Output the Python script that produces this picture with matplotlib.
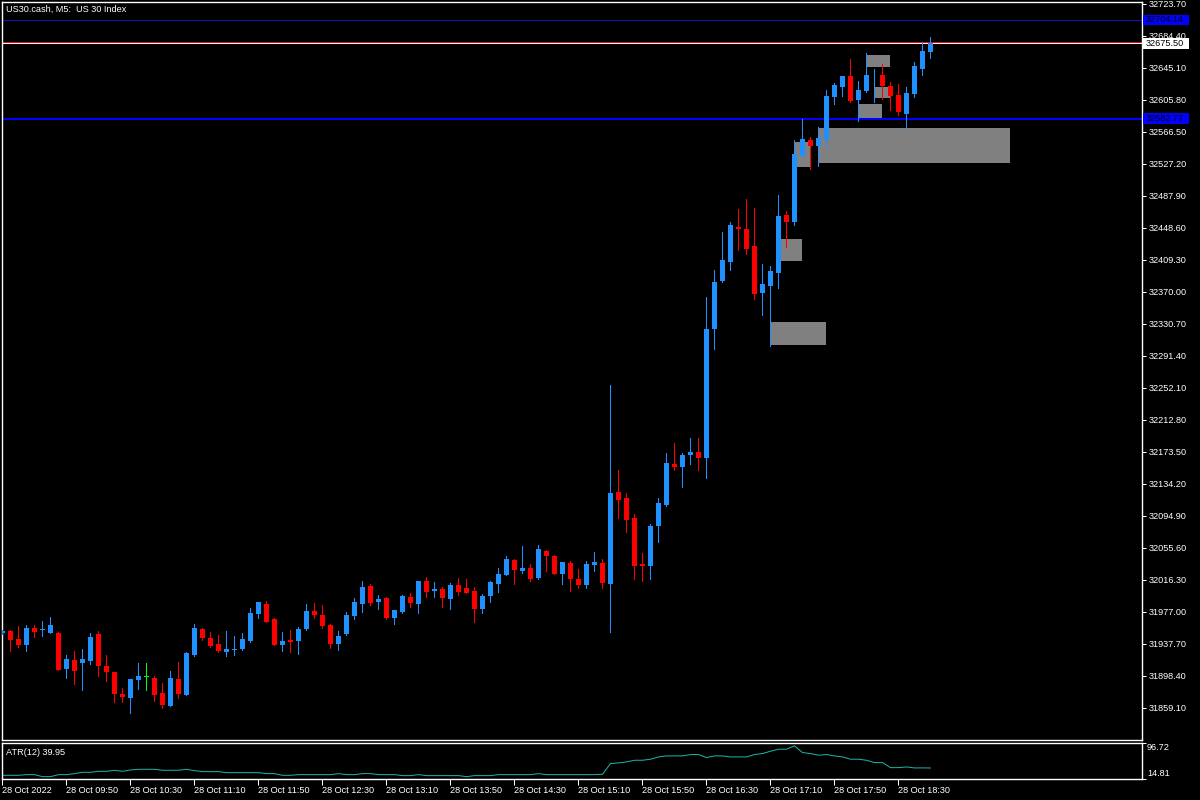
import matplotlib
matplotlib.use("Agg")
import matplotlib.pyplot as plt
from matplotlib.patches import Rectangle
from matplotlib.transforms import blended_transform_factory

plt.rcParams['font.family'] = ['Liberation Sans', 'DejaVu Sans']

# US30.cash M5 candles, 28 Oct 2022 09:10 .. 18:50
opens = [
    31951.8, 31953.7, 31943.5, 31936.8, 31957.2, 31954.5, 31951.6, 31951.2, 31907.4, 31918.1,
    31914.8, 31917.2, 31950.0, 31910.7, 31903.3, 31876.3, 31871.8, 31893.9, 31897.2, 31896.0,
    31877.5, 31861.9, 31894.7, 31875.5, 31924.6, 31956.0, 31945.0, 31937.5, 31928.3, 31930.7,
    31931.6, 31941.5, 31974.5, 31986.8, 31968.4, 31936.5, 31942.6, 31941.3, 31956.2, 31978.2,
    31973.3, 31961.0, 31938.1, 31949.9, 31972.1, 31987.2, 32009.0, 31989.3, 31994.2, 31969.6,
    31977.0, 31995.5, 31986.8, 32015.1, 32002.8, 32005.3, 31993.0, 32010.2, 32006.5, 32002.8,
    31980.7, 31996.7, 32011.4, 32022.4, 32040.9, 32027.3, 32031.0, 32018.8, 32051.9, 32045.8,
    32023.6, 32037.2, 32017.6, 32010.2, 32034.8, 32037.2, 32011.4, 32124.4, 32117.0, 32092.5,
    32036.0, 32033.6, 32082.7, 32108.4, 32158.8, 32155.1, 32169.8, 32173.5, 32166.1, 32324.6,
    32383.5, 32406.8, 32449.8, 32447.4, 32426.5, 32368.8, 32377.4, 32393.3, 32464.6, 32456.0,
    32537.0, 32556.7, 32549.3, 32556.7, 32609.5, 32621.8, 32635.3, 32605.8, 32616.9, 32635.9,
    32636.5, 32623.0, 32611.9, 32588.6, 32613.2, 32643.9, 32664.7]
highs = [
    31955.5, 31954.5, 31959.8, 31961.0, 31961.0, 31965.9, 31970.8, 31952.4, 31924.2, 31929.1,
    31931.6, 31951.2, 31953.7, 31924.2, 31903.5, 31883.6, 31895.0, 31914.3, 31914.3, 31898.4,
    31889.8, 31904.5, 31915.6, 31927.9, 31962.2, 31957.2, 31952.4, 31948.5, 31953.7, 31947.3,
    31951.2, 31981.9, 31989.5, 31990.5, 31969.6, 31952.4, 31954.9, 31958.6, 31986.8, 31988.1,
    31985.6, 31962.3, 31953.7, 31976.9, 31994.1, 32015.1, 32011.4, 31997.9, 31995.5, 31980.0,
    31997.9, 32000.4, 32015.4, 32020.0, 32013.9, 32007.7, 32012.6, 32018.8, 32017.6, 32007.7,
    31999.2, 32015.1, 32031.0, 32045.8, 32042.3, 32058.1, 32036.0, 32059.3, 32053.1, 32047.0,
    32038.7, 32039.7, 32029.8, 32039.7, 32050.7, 32042.1, 32255.8, 32151.4, 32123.1, 32097.4,
    32049.5, 32085.1, 32117.0, 32172.3, 32184.6, 32172.3, 32190.7, 32190.7, 32363.9, 32397.0,
    32443.7, 32455.9, 32471.9, 32484.2, 32473.2, 32404.4, 32401.9, 32489.1, 32469.5, 32556.7,
    32582.5, 32560.4, 32572.6, 32618.1, 32626.7, 32635.5, 32656.1, 32629.2, 32663.5, 32643.9,
    32650.0, 32627.9, 32625.5, 32621.8, 32652.5, 32677.0, 32683.2]
lows = [
    31950.5, 31929.5, 31934.0, 31929.5, 31946.6, 31947.9, 31951.2, 31905.5, 31896.3, 31888.9,
    31881.6, 31913.5, 31898.8, 31892.6, 31866.8, 31866.8, 31853.3, 31882.9, 31881.6, 31868.1,
    31859.5, 31861.5, 31871.8, 31875.3, 31923.4, 31942.9, 31934.4, 31927.9, 31923.0, 31924.2,
    31930.3, 31940.2, 31970.0, 31964.5, 31936.3, 31929.1, 31927.9, 31925.4, 31954.9, 31969.6,
    31957.4, 31933.2, 31930.3, 31948.7, 31968.4, 31977.0, 31985.6, 31980.7, 31968.4, 31962.3,
    31975.8, 31983.2, 31975.8, 31995.5, 31995.5, 31983.2, 31980.7, 31997.9, 32000.2, 31964.7,
    31975.8, 31989.3, 32001.6, 32022.2, 32011.4, 32024.9, 32015.1, 32017.6, 32027.3, 32023.4,
    32011.4, 32002.8, 32006.5, 32006.5, 32027.3, 32006.5, 31952.4, 32092.5, 32075.3, 32017.6,
    32015.1, 32017.6, 32063.0, 32107.2, 32151.4, 32130.5, 32158.8, 32151.4, 32141.6, 32300.0,
    32382.3, 32397.0, 32421.6, 32416.7, 32361.4, 32341.7, 32303.7, 32374.9, 32425.3, 32452.3,
    32536.8, 32521.1, 32524.7, 32548.1, 32600.9, 32610.7, 32603.3, 32580.0, 32615.6, 32603.3,
    32607.0, 32593.5, 32587.4, 32570.2, 32609.5, 32636.5, 32657.3]
closes = [
    31953.7, 31943.0, 31936.5, 31957.2, 31952.8, 31954.9, 31961.0, 31906.1, 31919.3, 31904.9,
    31919.3, 31946.3, 31911.1, 31903.7, 31876.7, 31873.0, 31894.7, 31898.4, 31897.2, 31875.1,
    31863.1, 31896.0, 31876.7, 31926.7, 31957.2, 31945.3, 31935.6, 31929.1, 31931.6, 31931.3,
    31943.9, 31975.7, 31989.3, 31964.7, 31936.5, 31941.3, 31940.2, 31956.2, 31978.2, 31973.3,
    31959.8, 31938.1, 31947.6, 31973.2, 31989.3, 32007.7, 31988.1, 31993.0, 31969.6, 31979.5,
    31996.7, 31988.1, 32015.1, 32001.6, 32005.3, 31994.2, 32010.2, 32001.6, 32000.4, 31980.7,
    31996.7, 32013.9, 32023.6, 32042.1, 32028.6, 32031.0, 32017.6, 32054.4, 32045.8, 32023.6,
    32038.5, 32017.6, 32010.2, 32036.0, 32038.5, 32012.6, 32123.1, 32114.6, 32090.0, 32033.6,
    32033.6, 32082.7, 32110.9, 32160.0, 32155.1, 32169.8, 32173.5, 32166.1, 32324.6, 32382.3,
    32409.3, 32452.3, 32447.4, 32422.8, 32367.5, 32379.8, 32395.8, 32463.3, 32456.0, 32539.5,
    32557.9, 32549.3, 32559.1, 32610.7, 32624.2, 32635.3, 32604.6, 32618.1, 32636.5, 32636.5,
    32623.0, 32610.7, 32591.1, 32614.4, 32647.6, 32666.0, 32675.5]

# ATR(12)
atr = [
    23.7, 23.7, 23.7, 25.2, 25.2, 20.7, 20.7, 25.2, 25.2, 27.4,
    30.4, 30.4, 32.6, 32.6, 34.9, 32.6, 35.6, 37.1, 37.1, 37.1,
    34.9, 34.9, 34.9, 37.1, 34.1, 31.9, 31.9, 31.9, 29.6, 29.6,
    29.6, 29.6, 29.6, 27.4, 27.4, 23.7, 23.7, 25.2, 25.2, 25.2,
    25.2, 25.2, 27.4, 25.2, 25.2, 27.4, 27.4, 25.2, 25.2, 25.2,
    23.0, 23.0, 25.2, 23.0, 23.0, 23.0, 23.0, 23.0, 20.7, 23.0,
    23.0, 23.0, 25.2, 25.2, 25.2, 25.2, 25.2, 27.4, 25.2, 25.2,
    25.2, 25.2, 25.2, 25.2, 25.2, 25.9, 49.8, 51.3, 53.5, 57.2,
    57.2, 59.5, 64.6, 66.9, 66.9, 66.9, 69.9, 69.9, 63.2, 66.9,
    66.9, 64.6, 64.6, 64.6, 69.9, 72.1, 77.3, 81.8, 81.8, 89.2,
    74.3, 72.1, 68.4, 69.9, 66.9, 64.6, 59.5, 59.5, 57.2, 52.0,
    52.0, 40.8, 40.8, 42.3, 40.1, 40.2, 39.95]

# grey zones: from bar, to bar, low price, high price
zone_start = [96, 97, 99, 102, 107, 108, 109]
zone_end = [103, 100, 101, 126, 110, 111, 111]
zone_low = [32304.9, 32408.1, 32523.5, 32528.8, 32582.1, 32646.6, 32608.6]
zone_high = [32333.1, 32435.1, 32554.2, 32571.8, 32600.9, 32661.0, 32621.8]

price_ticks = [32723.70, 32684.40, 32645.10, 32605.80, 32566.50, 32527.20, 32487.90,
               32448.60, 32409.30, 32370.00, 32330.70, 32291.40, 32252.10, 32212.80,
               32173.50, 32134.20, 32094.90, 32055.60, 32016.30, 31977.00, 31937.70,
               31898.40, 31859.10]
time_ticks = [0, 8, 16, 24, 32, 40, 48, 56, 64, 72, 80, 88, 96, 104, 112]
time_labels = ["28 Oct 2022", "28 Oct 09:50", "28 Oct 10:30", "28 Oct 11:10",
               "28 Oct 11:50", "28 Oct 12:30", "28 Oct 13:10", "28 Oct 13:50",
               "28 Oct 14:30", "28 Oct 15:10", "28 Oct 15:50", "28 Oct 16:30",
               "28 Oct 17:10", "28 Oct 17:50", "28 Oct 18:30"]

level_top = 32704.14
ask_price = 32676.7
bid_price = 32675.50
level_blue = 32582.77

W, H = 1200, 800
fig = plt.figure(figsize=(12, 8), dpi=100, facecolor='black')
ax = fig.add_axes([2 / W, 60 / H, 1140 / W, 738 / H], facecolor='black')
ax2 = fig.add_axes([2 / W, 20.7 / H, 1140 / W, 36.8 / H], facecolor='black')

fs = 6.6
px = 0.72  # one pixel in points
up_col, dn_col, eq_col = '#1E90FF', '#FF0000', '#00FF00'

idx = list(range(len(opens)))
cols = []
for o, c in zip(opens, closes):
    if c > o:
        cols.append(up_col)
    elif c < o:
        cols.append(dn_col)
    else:
        cols.append(eq_col)

# zones behind the candles
for s, e, lo, hi in zip(zone_start, zone_end, zone_low, zone_high):
    ax.add_patch(Rectangle((s, lo), e - s, hi - lo, facecolor='#808080',
                           edgecolor='none', zorder=1, antialiased=False))

ax.axhline(level_top, color='#1010c0', lw=px, zorder=2, antialiased=False)
ax.axhline(ask_price, color='#FF0000', lw=px, zorder=2, antialiased=False)
ax.axhline(bid_price, color='#FFFFFF', lw=px, zorder=2, antialiased=False)
ax.axhline(level_blue, color='#0000FF', lw=1.1, zorder=2, antialiased=False)

ax.vlines(idx, lows, highs, colors=cols, lw=px, zorder=3, antialiased=False)
body_lo = [min(o, c) for o, c in zip(opens, closes)]
body_h = [max(abs(c - o), 1.2) for o, c in zip(opens, closes)]
ax.bar(idx, body_h, bottom=body_lo, width=0.62, color=cols, linewidth=0,
       zorder=4, antialiased=False)

ax.set_xlim(-0.0625, 142.44)
ax.set_ylim(31819.8, 32726.15)
ax.set_xticks([])
ax.yaxis.tick_right()
ax.set_yticks(price_ticks)
ax.set_yticklabels(['%.2f' % p for p in price_ticks])
ax.tick_params(axis='y', colors='white', length=3, width=px, pad=2,
               labelsize=fs, labelcolor='white')
for sp in ax.spines.values():
    sp.set_color('white')
    sp.set_linewidth(1.0)

# price tags on the right scale
tag_tr = blended_transform_factory(fig.transFigure, ax.transData)
for price, face in [(level_top, '#0000FF'), (bid_price, '#FFFFFF'), (level_blue, '#0000FF')]:
    ax.add_patch(Rectangle((1143 / W, price - 6.5), 46 / W, 13.0, transform=tag_tr,
                           facecolor=face, edgecolor='none', zorder=6, clip_on=False))
    ax.text(1146 / W, price, '%.2f' % price, transform=tag_tr, color='black',
            fontsize=fs, va='center', ha='left', zorder=7, clip_on=False)

fig.text(6 / W, 1 - 9.5 / H, 'US30.cash, M5:  US 30 Index', color='white',
         fontsize=fs, va='center', ha='left')

# ATR pane
ax2.plot(idx, atr, color='#20B2AA', lw=px)
ax2.set_xlim(-0.0625, 142.44)
ax2.set_ylim(14.81, 96.72)
ax2.set_xticks(time_ticks)
ax2.set_xticklabels(time_labels)
for lbl in ax2.get_xticklabels():
    lbl.set_ha('left')
ax2.tick_params(axis='x', colors='white', length=4, width=px, pad=1,
                labelsize=fs, labelcolor='white')
ax2.yaxis.tick_right()
ax2.set_yticks([14.81, 96.72])
ax2.set_yticklabels([])
ax2.tick_params(axis='y', colors='white', length=3, width=px)
for sp in ax2.spines.values():
    sp.set_color('white')
    sp.set_linewidth(1.0)
ax2.text(1.0 + 5 / 1140, 0.86, '96.72', transform=ax2.transAxes, color='white',
         fontsize=fs, va='center', ha='left', clip_on=False)
ax2.text(1.0 + 5 / 1140, 0.17, '14.81', transform=ax2.transAxes, color='white',
         fontsize=fs, va='center', ha='left', clip_on=False)
ax2.text(4 / 1140, 0.73, 'ATR(12) 39.95', transform=ax2.transAxes, color='white',
         fontsize=fs, va='center', ha='left')

fig.savefig('out.png', dpi=100, facecolor='black')
